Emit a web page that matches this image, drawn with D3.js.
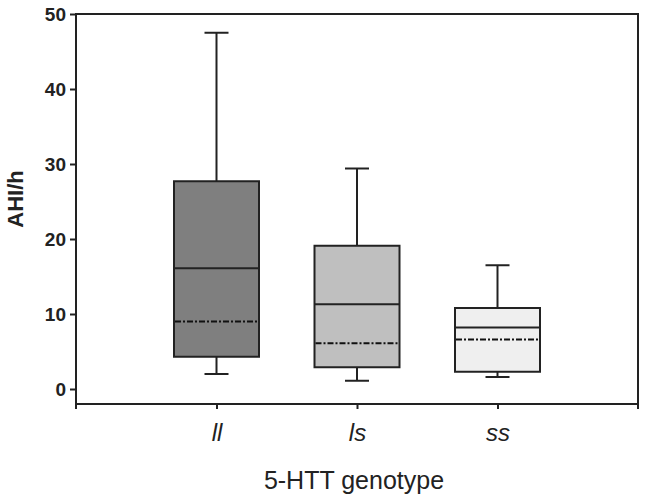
<!DOCTYPE html>
<html>
<head>
<meta charset="utf-8">
<script src="https://cdn.jsdelivr.net/npm/d3@7"></script>
<style>
  body { margin: 0; background: #fff; }
  svg { display: block; font-family: Arial, "Liberation Sans", sans-serif; }
</style>
</head>
<body>
<svg width="645" height="500"></svg>
<script>
var svg = d3.select("svg"),
    width = +svg.attr("width"),
    height = +svg.attr("height");

// data (AHI events per hour)
var genotypes = ["ll", "ls", "ss"];
var whiskerLow = [2.0, 1.1, 1.6];
var q1 = [4.3, 2.9, 2.3];
var median = [16.1, 11.3, 8.2];
var mean = [9.0, 6.1, 6.6];
var q3 = [27.7, 19.1, 10.8];
var whiskerHigh = [47.5, 29.4, 16.5];
var fills = ["#7f7f7f", "#bfbfbf", "#efefef"];
var yTicks = [0, 10, 20, 30, 40, 50];

var plot = {left: 76, right: 638, top: 14, bottom: 404};

var x = d3.scalePoint()
    .domain(genotypes)
    .range([plot.left, plot.right])
    .padding(1);

var y = d3.scaleLinear()
    .domain([-2, 50])
    .range([plot.bottom, plot.top]);

var boxW = 85, capW = 24;

var data = genotypes.map(function(g, i) {
  return {g: g, lo: whiskerLow[i], q1: q1[i], med: median[i], mean: mean[i],
          q3: q3[i], hi: whiskerHigh[i], fill: fills[i]};
});

var ink = "#222";

var box = svg.append("g").selectAll("g")
    .data(data)
  .enter().append("g")
    .attr("transform", function(d) { return "translate(" + x(d.g) + ",0)"; });

// whiskers
box.append("line")
    .attr("x1", 0).attr("x2", 0)
    .attr("y1", function(d) { return y(d.hi); })
    .attr("y2", function(d) { return y(d.lo); })
    .attr("stroke", ink).attr("stroke-width", 2);
box.append("line")
    .attr("x1", -capW / 2).attr("x2", capW / 2)
    .attr("y1", function(d) { return y(d.hi); })
    .attr("y2", function(d) { return y(d.hi); })
    .attr("stroke", ink).attr("stroke-width", 2);
box.append("line")
    .attr("x1", -capW / 2).attr("x2", capW / 2)
    .attr("y1", function(d) { return y(d.lo); })
    .attr("y2", function(d) { return y(d.lo); })
    .attr("stroke", ink).attr("stroke-width", 2);

box.append("rect")
    .attr("x", -boxW / 2)
    .attr("width", boxW)
    .attr("y", function(d) { return y(d.q3); })
    .attr("height", function(d) { return y(d.q1) - y(d.q3); })
    .attr("fill", function(d) { return d.fill; })
    .attr("stroke", ink).attr("stroke-width", 2);

box.append("line")
    .attr("x1", -boxW / 2).attr("x2", boxW / 2)
    .attr("y1", function(d) { return y(d.med); })
    .attr("y2", function(d) { return y(d.med); })
    .attr("stroke", ink).attr("stroke-width", 2);

// mean, dash-dot
box.append("line")
    .attr("x1", -boxW / 2 + 1).attr("x2", boxW / 2 - 1)
    .attr("y1", function(d) { return y(d.mean); })
    .attr("y2", function(d) { return y(d.mean); })
    .attr("stroke", "#111").attr("stroke-width", 2)
    .attr("stroke-dasharray", "6,2,2,2");

// axes
var yAxis = svg.append("g")
    .attr("transform", "translate(" + plot.left + ",0)")
    .call(d3.axisLeft(y).tickValues(yTicks).tickSize(6).tickPadding(4));
yAxis.select(".domain").remove();
yAxis.selectAll("line").attr("stroke", ink).attr("stroke-width", 2);
yAxis.selectAll("text")
    .attr("font-size", 19).attr("font-weight", "bold")
    .attr("font-family", "Arial, 'Liberation Sans', sans-serif")
    .attr("fill", "#222");

var xAxis = svg.append("g")
    .attr("transform", "translate(0," + plot.bottom + ")")
    .call(d3.axisBottom(x).tickSize(5).tickPadding(15));
xAxis.select(".domain").remove();
xAxis.selectAll("line").attr("stroke", ink).attr("stroke-width", 2);
xAxis.selectAll("text")
    .attr("font-size", 24).attr("font-style", "italic")
    .attr("font-family", "Arial, 'Liberation Sans', sans-serif")
    .attr("fill", "#222");

// frame
var frame = svg.append("g").attr("fill", "none").attr("stroke", ink).attr("stroke-width", 2);
frame.append("path")
    .attr("d", "M" + plot.left + "," + (plot.bottom + 5) + "V" + plot.top + "H" + plot.right + "V" + (plot.bottom + 5));
frame.append("path")
    .attr("d", "M" + plot.left + "," + plot.bottom + "H" + plot.right);

// titles
svg.append("text")
    .attr("transform", "translate(23,199) rotate(-90)")
    .attr("text-anchor", "middle")
    .attr("font-size", 22).attr("font-weight", "bold")
    .attr("fill", "#222")
    .text("AHI/h");

svg.append("text")
    .attr("x", 354).attr("y", 489)
    .attr("text-anchor", "middle")
    .attr("font-size", 25)
    .attr("fill", "#222")
    .text("5-HTT genotype");
</script>
</body>
</html>
